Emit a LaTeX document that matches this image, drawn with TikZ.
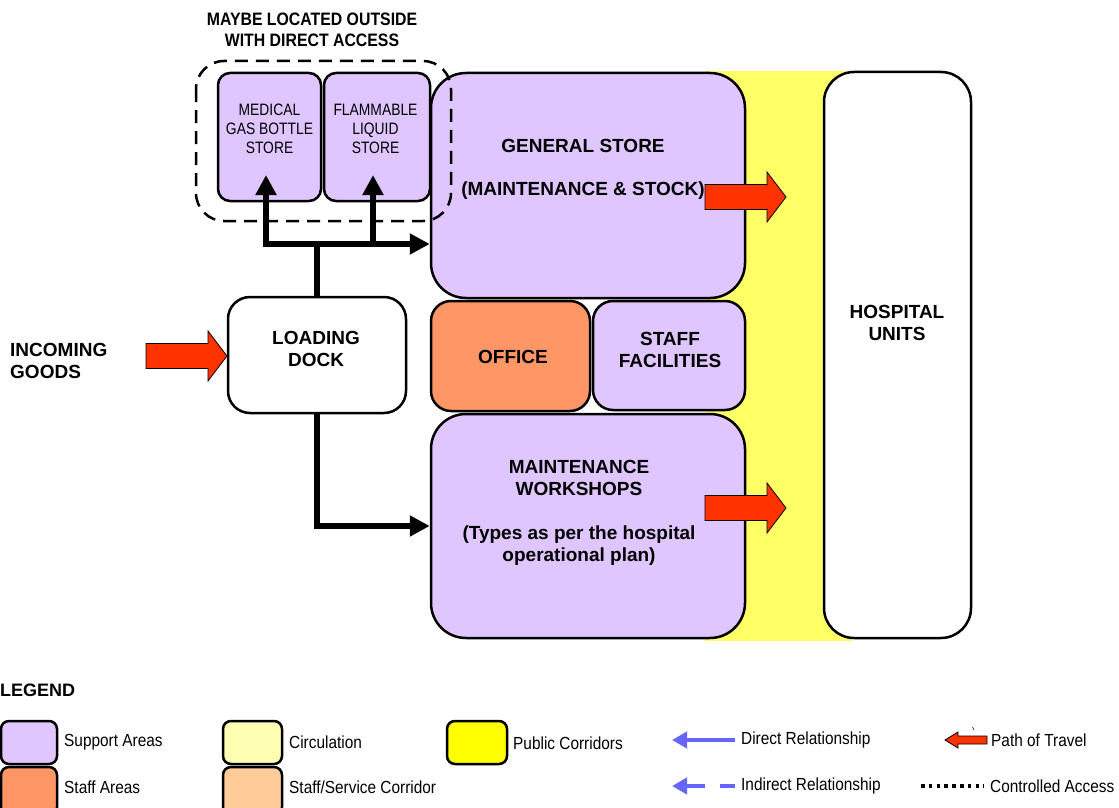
\documentclass[tikz,border=0pt]{standalone}
\usepackage{fontspec}
\setmainfont{Liberation Sans}
\newfontfamily\nar[FakeStretch=0.88]{Liberation Sans}
\newfontfamily\narr[FakeStretch=0.84]{Liberation Sans}
\usetikzlibrary{arrows.meta}
\definecolor{supp}{RGB}{224,198,255}
\definecolor{staffc}{RGB}{255,150,102}
\definecolor{corr}{RGB}{255,255,102}
\definecolor{circ}{RGB}{255,255,180}
\definecolor{servc}{RGB}{255,204,153}
\definecolor{pubc}{RGB}{255,255,0}
\definecolor{arred}{RGB}{255,51,0}
\definecolor{relblue}{RGB}{102,102,255}
\tikzset{
  box/.style={draw=black, line width=2.5pt, inner sep=0pt, rectangle},
  suppbox/.style={box, fill=supp},
  lbl/.style={font=\bfseries\fontsize{19}{22}\selectfont, align=center, inner sep=0pt},
  smlbl/.style={font=\narr\fontsize{16.5}{19}\selectfont, align=center, inner sep=0pt},
  leg/.style={font=\nar\fontsize{17.5}{20}\selectfont, anchor=west, inner sep=0pt},
  legbox/.style={draw=black, line width=2.5pt, rounded corners=8pt},
  blk/.style={line width=6.5pt, draw=black},
  tri/.tip={Triangle[length=20pt,width=20pt]},
  redarr/.pic={\filldraw[fill=arred, draw=black, line width=0.8pt]
     (0,-12.5) -- (62,-12.5) -- (62,-25) -- (81,0) -- (62,25) -- (62,12.5) -- (0,12.5) -- cycle;}
}
\begin{document}
\begin{tikzpicture}[x=1pt,y=-1pt]
\useasboundingbox (0,0) rectangle (1119,808);
\clip (0,0) rectangle (1119,808);

% public corridor band
\fill[corr] (705,71) rectangle (852,641);

% boxes
\node[suppbox, minimum width=103pt, minimum height=128pt, rounded corners=12pt] (med) at (269.5,137) {};
\node[suppbox, minimum width=106pt, minimum height=128pt, rounded corners=12pt] (fla) at (377,137) {};
\node[suppbox, minimum width=314pt, minimum height=225pt, rounded corners=35pt] (gen) at (588,185.5) {};
\node[box, fill=white, minimum width=178pt, minimum height=116pt, rounded corners=22pt] (dock) at (317,355) {};
\node[box, fill=staffc, minimum width=159pt, minimum height=110pt, rounded corners=20pt] (off) at (510.5,356) {};
\node[suppbox, minimum width=152pt, minimum height=109pt, rounded corners=20pt] (stf) at (669,355.5) {};
\node[suppbox, minimum width=314pt, minimum height=224pt, rounded corners=35pt] (wk) at (588,526) {};
\node[box, fill=white, minimum width=147pt, minimum height=566pt, rounded corners=30pt] (hosp) at (897.5,355) {};

% controlled access dashed outline
\draw[line width=2.5pt, dash pattern=on 13pt off 8pt, rounded corners=28pt] (196,61) rectangle (451,221);

% labels
\node[font=\nar\bfseries\fontsize{18}{21}\selectfont, align=center, inner sep=0pt] (topT) at (312,29.5) {MAYBE LOCATED OUTSIDE\\WITH DIRECT ACCESS};
\node[smlbl] (medT) at (269.5,129) {MEDICAL\\GAS BOTTLE\\STORE};
\node[smlbl] (flaT) at (375.5,129) {FLAMMABLE\\LIQUID\\STORE};
\node[lbl] (genT) at (583,169.5) {GENERAL STORE\\[21pt](MAINTENANCE \& STOCK)};
\node[lbl] (dockT) at (316,349) {LOADING\\DOCK};
\node[lbl] (offT) at (513,357) {OFFICE};
\node[lbl] (stfT) at (670,350) {STAFF\\FACILITIES};
\node[lbl] (wkT) at (579,513) {MAINTENANCE\\WORKSHOPS\\[22pt](Types as per the hospital\\operational plan)};
\node[lbl] (hospT) at (897,323) {HOSPITAL\\UNITS};
\node[lbl, anchor=west, align=left] (inT) at (10,361) {INCOMING\\GOODS};

% red path-of-travel arrows
\pic at (146,356) {redarr};
\pic at (705,197) {redarr};
\pic at (705,508) {redarr};

% black relationship arrows
\coordinate (j) at (317,244);
\coordinate (jl) at (266,244);
\coordinate (mtip) at (266,175);
\coordinate (fb) at (373,244);
\coordinate (ftip) at (373,175);
\draw[blk, {tri}-{tri}] (mtip) -- (jl) -- (j -| gen.west);
\draw[blk, -{tri}] (fb) -- (ftip);
\draw[blk] (dock.north) -- (j);
\draw[blk, -{tri}] (dock.south) |- (wk.west);

% legend
\node[font=\bfseries\fontsize{18}{22}\selectfont, anchor=west, inner sep=0pt] (legT) at (0,690) {LEGEND};
\draw[legbox, fill=supp] (1,721) rectangle (57,764);
\draw[legbox, fill=staffc] (1,767) rectangle (57,815);
\draw[legbox, fill=circ] (223,721) rectangle (282,764);
\draw[legbox, fill=servc] (223,767) rectangle (282,815);
\draw[legbox, fill=pubc] (447,721) rectangle (507,764);
\node[leg] (l1) at (64,742) {Support Areas};
\node[leg] (l2) at (64,787) {Staff Areas};
\node[leg] (l3) at (289,742) {Circulation};
\node[leg] (l4) at (289,787) {Staff/Service Corridor};
\node[leg] (l5) at (513,743) {Public Corridors};
\coordinate (d1) at (735,740);
\coordinate (d2) at (672,740);
\draw[relblue, line width=4.5pt, -{Triangle[length=15pt,width=16pt]}] (d1) -- (d2);
\coordinate (i1) at (705,786);
\coordinate (i2) at (672,786);
\coordinate (i3) at (720,786);
\coordinate (i4) at (735,786);
\draw[relblue, line width=4.5pt, -{Triangle[length=15pt,width=16pt]}] (i1) -- (i2);
\draw[relblue, line width=4.5pt] (i3) -- (i4);
\node[leg] (l6) at (741,740) {Direct Relationship};
\node[leg] (l7) at (741,786) {Indirect Relationship};
\filldraw[fill=arred, draw=black, line width=0.8pt]
  (987,736) -- (958,736) -- (958,732) -- (945,740) -- (958,748) -- (958,744) -- (987,744) -- cycle;
\draw[line width=0.6pt] (972.5,727) -- (974,730);
\node[leg] (l8) at (991,740) {Path of Travel};
\draw[line width=4pt, dash pattern=on 3.5pt off 4.3pt] (921,786) -- (984,786);
\node[leg] (l9) at (990,786) {Controlled Access};
\end{tikzpicture}
\end{document}
